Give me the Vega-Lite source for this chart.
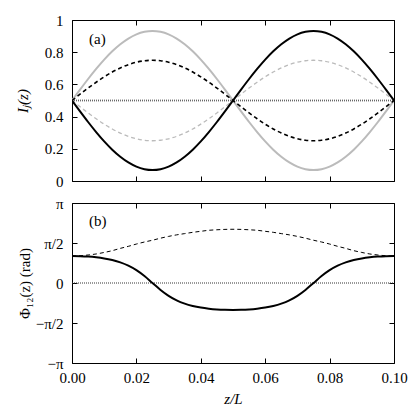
{
  "$schema": "https://vega.github.io/schema/vega-lite/v6.json",
  "background": "white",
  "padding": {"left": 14, "top": 12, "right": 5, "bottom": 5},
  "spacing": 5,
  "config": {
    "font": "Liberation Serif",
    "view": {"stroke": "black", "strokeWidth": 1},
    "style": {"guide-label": {"font": "Liberation Serif", "fontSize": 15, "fill": "black"}, "guide-title": {"font": "Liberation Serif", "fontSize": 15}},
    "axis": {
      "labelFont": "Liberation Serif", "labelFontSize": 15, "labelColor": "black",
      "titleFont": "Liberation Serif", "titleFontSize": 15, "titleFontWeight": "normal", "titleColor": "black",
      "grid": false, "domain": false, "tickColor": "black", "tickWidth": 1, "tickSize": -5,
      "labelFlush": false, "labelOverlap": false
    },
    "title": {"font": "Liberation Serif", "fontSize": 15, "fontWeight": "normal", "color": "black"}
  },
  "datasets": {
    "d": [
      {"z": 0.0000, "I1_A": 0.5, "I2_A": 0.5, "I1_B": 0.5, "I2_B": 0.5, "I_C": 0.5, "Phi_A": 1.060, "Phi_B": 1.06, "Phi_C": 0},
      {"z": 0.0025, "I1_A": 0.4324, "I2_A": 0.5676, "I1_B": 0.5391, "I2_B": 0.4609, "I_C": 0.5, "Phi_A": 1.054, "Phi_B": 1.07, "Phi_C": 0},
      {"z": 0.0050, "I1_A": 0.3665, "I2_A": 0.6335, "I1_B": 0.5773, "I2_B": 0.4227, "I_C": 0.5, "Phi_A": 1.038, "Phi_B": 1.10, "Phi_C": 0},
      {"z": 0.0075, "I1_A": 0.3039, "I2_A": 0.6961, "I1_B": 0.6135, "I2_B": 0.3865, "I_C": 0.5, "Phi_A": 1.009, "Phi_B": 1.14, "Phi_C": 0},
      {"z": 0.0100, "I1_A": 0.2461, "I2_A": 0.7539, "I1_B": 0.6470, "I2_B": 0.3530, "I_C": 0.5, "Phi_A": 0.965, "Phi_B": 1.20, "Phi_C": 0},
      {"z": 0.0125, "I1_A": 0.1945, "I2_A": 0.8055, "I1_B": 0.6768, "I2_B": 0.3232, "I_C": 0.5, "Phi_A": 0.900, "Phi_B": 1.27, "Phi_C": 0},
      {"z": 0.0150, "I1_A": 0.1505, "I2_A": 0.8495, "I1_B": 0.7023, "I2_B": 0.2977, "I_C": 0.5, "Phi_A": 0.809, "Phi_B": 1.36, "Phi_C": 0},
      {"z": 0.0175, "I1_A": 0.1151, "I2_A": 0.8849, "I1_B": 0.7228, "I2_B": 0.2772, "I_C": 0.5, "Phi_A": 0.681, "Phi_B": 1.44, "Phi_C": 0},
      {"z": 0.0200, "I1_A": 0.0891, "I2_A": 0.9109, "I1_B": 0.7378, "I2_B": 0.2622, "I_C": 0.5, "Phi_A": 0.504, "Phi_B": 1.53, "Phi_C": 0},
      {"z": 0.0225, "I1_A": 0.0733, "I2_A": 0.9267, "I1_B": 0.7469, "I2_B": 0.2531, "I_C": 0.5, "Phi_A": 0.273, "Phi_B": 1.61, "Phi_C": 0},
      {"z": 0.0250, "I1_A": 0.068, "I2_A": 0.932, "I1_B": 0.75, "I2_B": 0.25, "I_C": 0.5, "Phi_A": 0.0, "Phi_B": 1.68, "Phi_C": 0},
      {"z": 0.0275, "I1_A": 0.0733, "I2_A": 0.9267, "I1_B": 0.7469, "I2_B": 0.2531, "I_C": 0.5, "Phi_A": -0.273, "Phi_B": 1.76, "Phi_C": 0},
      {"z": 0.0300, "I1_A": 0.0891, "I2_A": 0.9109, "I1_B": 0.7378, "I2_B": 0.2622, "I_C": 0.5, "Phi_A": -0.504, "Phi_B": 1.83, "Phi_C": 0},
      {"z": 0.0325, "I1_A": 0.1151, "I2_A": 0.8849, "I1_B": 0.7228, "I2_B": 0.2772, "I_C": 0.5, "Phi_A": -0.681, "Phi_B": 1.89, "Phi_C": 0},
      {"z": 0.0350, "I1_A": 0.1505, "I2_A": 0.8495, "I1_B": 0.7023, "I2_B": 0.2977, "I_C": 0.5, "Phi_A": -0.809, "Phi_B": 1.94, "Phi_C": 0},
      {"z": 0.0375, "I1_A": 0.1945, "I2_A": 0.8055, "I1_B": 0.6768, "I2_B": 0.3232, "I_C": 0.5, "Phi_A": -0.900, "Phi_B": 1.99, "Phi_C": 0},
      {"z": 0.0400, "I1_A": 0.2461, "I2_A": 0.7539, "I1_B": 0.6470, "I2_B": 0.3530, "I_C": 0.5, "Phi_A": -0.965, "Phi_B": 2.03, "Phi_C": 0},
      {"z": 0.0425, "I1_A": 0.3039, "I2_A": 0.6961, "I1_B": 0.6135, "I2_B": 0.3865, "I_C": 0.5, "Phi_A": -1.009, "Phi_B": 2.07, "Phi_C": 0},
      {"z": 0.0450, "I1_A": 0.3665, "I2_A": 0.6335, "I1_B": 0.5773, "I2_B": 0.4227, "I_C": 0.5, "Phi_A": -1.038, "Phi_B": 2.09, "Phi_C": 0},
      {"z": 0.0475, "I1_A": 0.4324, "I2_A": 0.5676, "I1_B": 0.5391, "I2_B": 0.4609, "I_C": 0.5, "Phi_A": -1.054, "Phi_B": 2.105, "Phi_C": 0},
      {"z": 0.0500, "I1_A": 0.5, "I2_A": 0.5, "I1_B": 0.5, "I2_B": 0.5, "I_C": 0.5, "Phi_A": -1.060, "Phi_B": 2.11, "Phi_C": 0},
      {"z": 0.0525, "I1_A": 0.5676, "I2_A": 0.4324, "I1_B": 0.4609, "I2_B": 0.5391, "I_C": 0.5, "Phi_A": -1.054, "Phi_B": 2.105, "Phi_C": 0},
      {"z": 0.0550, "I1_A": 0.6335, "I2_A": 0.3665, "I1_B": 0.4227, "I2_B": 0.5773, "I_C": 0.5, "Phi_A": -1.038, "Phi_B": 2.09, "Phi_C": 0},
      {"z": 0.0575, "I1_A": 0.6961, "I2_A": 0.3039, "I1_B": 0.3865, "I2_B": 0.6135, "I_C": 0.5, "Phi_A": -1.009, "Phi_B": 2.07, "Phi_C": 0},
      {"z": 0.0600, "I1_A": 0.7539, "I2_A": 0.2461, "I1_B": 0.3530, "I2_B": 0.6470, "I_C": 0.5, "Phi_A": -0.965, "Phi_B": 2.03, "Phi_C": 0},
      {"z": 0.0625, "I1_A": 0.8055, "I2_A": 0.1945, "I1_B": 0.3232, "I2_B": 0.6768, "I_C": 0.5, "Phi_A": -0.900, "Phi_B": 1.99, "Phi_C": 0},
      {"z": 0.0650, "I1_A": 0.8495, "I2_A": 0.1505, "I1_B": 0.2977, "I2_B": 0.7023, "I_C": 0.5, "Phi_A": -0.809, "Phi_B": 1.94, "Phi_C": 0},
      {"z": 0.0675, "I1_A": 0.8849, "I2_A": 0.1151, "I1_B": 0.2772, "I2_B": 0.7228, "I_C": 0.5, "Phi_A": -0.681, "Phi_B": 1.89, "Phi_C": 0},
      {"z": 0.0700, "I1_A": 0.9109, "I2_A": 0.0891, "I1_B": 0.2622, "I2_B": 0.7378, "I_C": 0.5, "Phi_A": -0.504, "Phi_B": 1.83, "Phi_C": 0},
      {"z": 0.0725, "I1_A": 0.9267, "I2_A": 0.0733, "I1_B": 0.2531, "I2_B": 0.7469, "I_C": 0.5, "Phi_A": -0.273, "Phi_B": 1.76, "Phi_C": 0},
      {"z": 0.0750, "I1_A": 0.932, "I2_A": 0.068, "I1_B": 0.25, "I2_B": 0.75, "I_C": 0.5, "Phi_A": 0.0, "Phi_B": 1.68, "Phi_C": 0},
      {"z": 0.0775, "I1_A": 0.9267, "I2_A": 0.0733, "I1_B": 0.2531, "I2_B": 0.7469, "I_C": 0.5, "Phi_A": 0.273, "Phi_B": 1.61, "Phi_C": 0},
      {"z": 0.0800, "I1_A": 0.9109, "I2_A": 0.0891, "I1_B": 0.2622, "I2_B": 0.7378, "I_C": 0.5, "Phi_A": 0.504, "Phi_B": 1.53, "Phi_C": 0},
      {"z": 0.0825, "I1_A": 0.8849, "I2_A": 0.1151, "I1_B": 0.2772, "I2_B": 0.7228, "I_C": 0.5, "Phi_A": 0.681, "Phi_B": 1.44, "Phi_C": 0},
      {"z": 0.0850, "I1_A": 0.8495, "I2_A": 0.1505, "I1_B": 0.2977, "I2_B": 0.7023, "I_C": 0.5, "Phi_A": 0.809, "Phi_B": 1.36, "Phi_C": 0},
      {"z": 0.0875, "I1_A": 0.8055, "I2_A": 0.1945, "I1_B": 0.3232, "I2_B": 0.6768, "I_C": 0.5, "Phi_A": 0.900, "Phi_B": 1.27, "Phi_C": 0},
      {"z": 0.0900, "I1_A": 0.7539, "I2_A": 0.2461, "I1_B": 0.3530, "I2_B": 0.6470, "I_C": 0.5, "Phi_A": 0.965, "Phi_B": 1.20, "Phi_C": 0},
      {"z": 0.0925, "I1_A": 0.6961, "I2_A": 0.3039, "I1_B": 0.3865, "I2_B": 0.6135, "I_C": 0.5, "Phi_A": 1.009, "Phi_B": 1.14, "Phi_C": 0},
      {"z": 0.0950, "I1_A": 0.6335, "I2_A": 0.3665, "I1_B": 0.4227, "I2_B": 0.5773, "I_C": 0.5, "Phi_A": 1.038, "Phi_B": 1.10, "Phi_C": 0},
      {"z": 0.0975, "I1_A": 0.5676, "I2_A": 0.4324, "I1_B": 0.4609, "I2_B": 0.5391, "I_C": 0.5, "Phi_A": 1.054, "Phi_B": 1.07, "Phi_C": 0},
      {"z": 0.1000, "I1_A": 0.5, "I2_A": 0.5, "I1_B": 0.5, "I2_B": 0.5, "I_C": 0.5, "Phi_A": 1.060, "Phi_B": 1.06, "Phi_C": 0}
    ]
  },
  "vconcat": [
    {
      "width": 322,
      "height": 161,
      "title": {"text": "(a)", "anchor": "start", "frame": "group", "orient": "top", "offset": -34, "dx": 17},
      "data": {"name": "d"},
      "resolve": {"axis": {"x": "independent", "y": "independent"}},
      "layer": [
        {
          "mark": {"type": "line", "strokeDash": [1, 1], "strokeWidth": 2.4, "color": "#b0b0b0", "clip": true},
          "encoding": {
            "x": {"field": "z", "type": "quantitative", "scale": {"domain": [0, 0.1], "nice": false},
                  "axis": {"orient": "top", "labels": false, "title": null, "values": [0, 0.02, 0.04, 0.06, 0.08, 0.1]}},
            "y": {"field": "I_C", "type": "quantitative", "scale": {"domain": [0, 1], "nice": false, "zero": false},
                  "axis": {"orient": "right", "labels": false, "title": null, "values": [0, 0.2, 0.4, 0.6, 0.8, 1]}}
          }
        },
        {
          "mark": {"type": "line", "strokeDash": [1, 1], "strokeWidth": 1, "color": "#666666", "clip": true},
          "encoding": {
            "x": {"field": "z", "type": "quantitative", "axis": null},
            "y": {"field": "I_C", "type": "quantitative", "axis": null}
          }
        },
        {
          "mark": {"type": "line", "interpolate": "monotone", "strokeWidth": 2, "color": "#bbbbbb", "clip": true},
          "encoding": {
            "x": {"field": "z", "type": "quantitative", "axis": null},
            "y": {"field": "I2_A", "type": "quantitative", "axis": null}
          }
        },
        {
          "mark": {"type": "line", "interpolate": "monotone", "strokeWidth": 1.3, "strokeDash": [4, 3], "color": "#bbbbbb", "clip": true},
          "encoding": {
            "x": {"field": "z", "type": "quantitative", "axis": null},
            "y": {"field": "I2_B", "type": "quantitative", "axis": null}
          }
        },
        {
          "mark": {"type": "line", "interpolate": "monotone", "strokeWidth": 1.6, "strokeDash": [4, 3], "color": "#000000", "clip": true},
          "encoding": {
            "x": {"field": "z", "type": "quantitative", "axis": null},
            "y": {"field": "I1_B", "type": "quantitative", "axis": null}
          }
        },
        {
          "mark": {"type": "line", "interpolate": "monotone", "strokeWidth": 2, "color": "#000000", "clip": true},
          "encoding": {
            "x": {"field": "z", "type": "quantitative",
                  "axis": {"orient": "bottom", "labels": false, "title": null, "values": [0, 0.02, 0.04, 0.06, 0.08, 0.1]}},
            "y": {"field": "I1_A", "type": "quantitative",
                  "axis": {"orient": "left", "title": "Iⱼ(z)", "titleFontStyle": "italic", "titlePadding": 14, "labelPadding": 14,
                           "labelFont": "Liberation Serif", "titleFont": "Liberation Serif",
                           "values": [0, 0.2, 0.4, 0.6, 0.8, 1], "labelExpr": "format(datum.value, '~g')"}}
          }
        }
      ]
    },
    {
      "width": 322,
      "height": 160,
      "title": {"text": "(b)", "anchor": "start", "frame": "group", "orient": "top", "offset": -33, "dx": 17},
      "data": {"name": "d"},
      "resolve": {"axis": {"x": "independent", "y": "independent"}},
      "layer": [
        {
          "mark": {"type": "line", "strokeDash": [1, 1], "strokeWidth": 1, "color": "#333333", "clip": true},
          "encoding": {
            "x": {"field": "z", "type": "quantitative", "scale": {"domain": [0, 0.1], "nice": false},
                  "axis": {"orient": "top", "labels": false, "title": null, "values": [0, 0.02, 0.04, 0.06, 0.08, 0.1]}},
            "y": {"field": "Phi_C", "type": "quantitative", "scale": {"domain": [-3.14159265, 3.14159265], "nice": false, "zero": false},
                  "axis": {"orient": "right", "labels": false, "title": null, "values": [-3.14159265, -1.57079633, 0, 1.57079633, 3.14159265]}}
          }
        },
        {
          "mark": {"type": "line", "interpolate": "monotone", "strokeWidth": 1, "strokeDash": [4, 3], "color": "#000000", "clip": true},
          "encoding": {
            "x": {"field": "z", "type": "quantitative", "axis": null},
            "y": {"field": "Phi_B", "type": "quantitative", "axis": null}
          }
        },
        {
          "mark": {"type": "line", "interpolate": "monotone", "strokeWidth": 2, "color": "#000000", "clip": true},
          "encoding": {
            "x": {"field": "z", "type": "quantitative",
                  "axis": {"orient": "bottom", "title": "z/L", "titleFontStyle": "italic", "titlePadding": 6, "labelPadding": 12,
                           "labelFont": "Liberation Serif", "titleFont": "Liberation Serif",
                           "values": [0, 0.02, 0.04, 0.06, 0.08, 0.1], "format": ".2f"}},
            "y": {"field": "Phi_A", "type": "quantitative",
                  "axis": {"orient": "left", "title": "Φ₁₂(z) (rad)", "titlePadding": 3, "labelPadding": 14,
                           "labelFont": "Liberation Serif", "titleFont": "Liberation Serif",
                           "values": [-3.14159265, -1.57079633, 0, 1.57079633, 3.14159265],
                           "labelExpr": "datum.value < -3 ? '−π' : datum.value < -1 ? '−π/2' : datum.value > 3 ? 'π' : datum.value > 1 ? 'π/2' : '0'"}}
          }
        }
      ]
    }
  ]
}
